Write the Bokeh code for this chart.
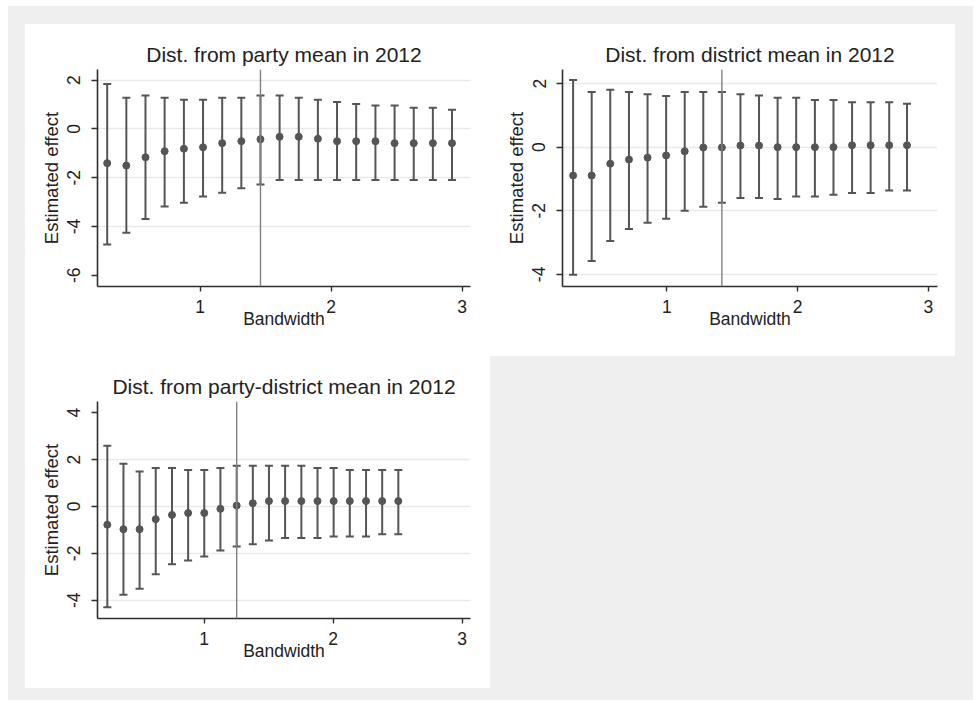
from bokeh.plotting import figure
from bokeh.models import (ColumnDataSource, Whisker, TeeHead, Span, FixedTicker,
                          Range1d, Spacer)
from bokeh.layouts import row, column
from bokeh.embed import file_html
from bokeh.resources import INLINE

# ---- Panel 1: distance from party mean in 2012 ----
title1 = "Dist. from party mean in 2012"
bw1 = [0.292, 0.438, 0.584, 0.730, 0.877, 1.023, 1.169, 1.315, 1.461, 1.607,
       1.753, 1.899, 2.045, 2.191, 2.338, 2.484, 2.630, 2.776, 2.922]
est1 = [-1.40, -1.50, -1.16, -0.91, -0.81, -0.75, -0.58, -0.50, -0.42, -0.32,
        -0.32, -0.40, -0.50, -0.50, -0.50, -0.58, -0.58, -0.58, -0.58]
hi1 = [1.85, 1.28, 1.37, 1.28, 1.20, 1.20, 1.28, 1.28, 1.37, 1.37,
       1.28, 1.20, 1.11, 1.03, 0.96, 0.96, 0.87, 0.87, 0.79]
lo1 = [-4.74, -4.26, -3.69, -3.18, -3.03, -2.77, -2.61, -2.43, -2.28, -2.09,
       -2.09, -2.09, -2.09, -2.09, -2.09, -2.09, -2.09, -2.09, -2.09]
opt1 = 1.461
yticks1 = [-6, -4, -2, 0, 2]

# ---- Panel 2: distance from district mean in 2012 ----
title2 = "Dist. from district mean in 2012"
bw2 = [0.284, 0.426, 0.568, 0.711, 0.853, 0.995, 1.137, 1.279, 1.421, 1.563,
       1.705, 1.847, 1.989, 2.132, 2.274, 2.416, 2.558, 2.700, 2.836]
est2 = [-0.89, -0.89, -0.52, -0.39, -0.33, -0.26, -0.13, -0.01, -0.01, 0.05,
        0.05, 0.00, 0.00, 0.00, 0.00, 0.06, 0.06, 0.06, 0.06]
hi2 = [2.11, 1.73, 1.80, 1.73, 1.66, 1.61, 1.73, 1.73, 1.73, 1.66,
       1.62, 1.55, 1.55, 1.48, 1.48, 1.41, 1.41, 1.41, 1.36]
lo2 = [-4.01, -3.58, -2.95, -2.57, -2.38, -2.25, -2.00, -1.87, -1.75, -1.60,
       -1.60, -1.63, -1.55, -1.55, -1.50, -1.44, -1.44, -1.36, -1.36]
opt2 = 1.421
yticks2 = [-4, -2, 0, 2]

# ---- Panel 3: distance from party-district mean in 2012 ----
title3 = "Dist. from party-district mean in 2012"
bw3 = [0.251, 0.376, 0.501, 0.626, 0.752, 0.877, 1.002, 1.127, 1.253, 1.378,
       1.503, 1.628, 1.754, 1.879, 2.004, 2.129, 2.255, 2.380, 2.505]
est3 = [-0.78, -0.97, -0.97, -0.54, -0.36, -0.28, -0.28, -0.10, 0.04, 0.14,
        0.23, 0.23, 0.23, 0.23, 0.23, 0.23, 0.23, 0.23, 0.23]
hi3 = [2.59, 1.82, 1.49, 1.64, 1.64, 1.56, 1.56, 1.64, 1.74, 1.74,
       1.74, 1.74, 1.74, 1.64, 1.64, 1.56, 1.56, 1.56, 1.56]
lo3 = [-4.30, -3.77, -3.51, -2.89, -2.46, -2.30, -2.13, -1.88, -1.71, -1.61,
       -1.45, -1.34, -1.35, -1.35, -1.28, -1.28, -1.28, -1.18, -1.18]
opt3 = 1.253
yticks3 = [-4, -2, 0, 2, 4]

xticks = [1, 2, 3]
grid_ticks = [-4, -2, 0, 2]
x_title = "Bandwidth"
y_title = "Estimated effect"

FONT = "Liberation Sans"
INK = "#555555"
TEXT = "#222222"
AXIS = "#2e2e2e"
BACK = "#efefef"


def panel(title, bw, est, lo, hi, opt, yticks, xr, yr, border_right=20):
    p = figure(width=465, height=332, output_backend="svg", toolbar_location=None,
               x_range=Range1d(*xr), y_range=Range1d(*yr),
               min_border_left=72, min_border_right=border_right,
               min_border_top=45, min_border_bottom=70,
               background_fill_color="white", border_fill_color="white",
               outline_line_color=None)

    p.title.text = title
    p.title.align = "center"
    p.title.text_font = FONT
    p.title.text_font_size = "21px"
    p.title.text_font_style = "normal"
    p.title.text_color = TEXT
    p.title.standoff = 8

    p.xgrid.visible = False
    p.ygrid.ticker = FixedTicker(ticks=grid_ticks)
    p.ygrid.grid_line_color = "#e9e9e9"
    p.ygrid.grid_line_width = 1.5

    for ax in (p.xaxis[0], p.yaxis[0]):
        ax.axis_line_color = AXIS
        ax.axis_line_width = 1.6
        ax.major_tick_line_color = AXIS
        ax.major_tick_line_width = 1.4
        ax.major_tick_in = 0
        ax.minor_tick_line_color = None
        ax.major_label_text_font = FONT
        ax.major_label_text_font_size = "17.5px"
        ax.major_label_text_color = TEXT
        ax.axis_label_text_font = FONT
        ax.axis_label_text_font_style = "normal"
        ax.axis_label_text_color = TEXT

    p.xaxis.ticker = FixedTicker(ticks=xticks)
    p.xaxis.major_tick_out = 5
    p.xaxis.major_label_standoff = 8
    p.xaxis.axis_label = x_title
    p.xaxis.axis_label_text_font_size = "17.5px"
    p.xaxis.axis_label_standoff = -7

    p.yaxis.ticker = FixedTicker(ticks=yticks)
    p.yaxis.major_label_overrides = {t: str(t) for t in yticks}
    p.yaxis.major_label_orientation = "vertical"
    p.yaxis.major_tick_out = 6
    p.yaxis.major_label_standoff = 11
    p.yaxis.axis_label = y_title
    p.yaxis.axis_label_text_font_size = "18.5px"
    p.yaxis.axis_label_standoff = 3

    # optimal bandwidth marker
    p.add_layout(Span(location=opt, dimension="height",
                      line_color="#808080", line_width=1.4))

    src = ColumnDataSource(dict(bw=bw, est=est, lo=lo, hi=hi))
    head = dict(size=8, line_color=INK, line_width=2)
    p.add_layout(Whisker(base="bw", upper="hi", lower="lo", source=src,
                         dimension="height", line_color=INK, line_width=2,
                         upper_head=TeeHead(**head), lower_head=TeeHead(**head)))
    p.scatter("bw", "est", source=src, size=7, color=INK, line_color=INK)
    return p


p1 = panel(title1, bw1, est1, lo1, hi1, opt1, yticks1, (0.218, 3.063), (-6.46, 2.44))
p2 = panel(title2, bw2, est2, lo2, hi2, opt2, yticks2, (0.203, 3.069), (-4.38, 2.44),
           border_right=18)
p3 = panel(title3, bw3, est3, lo3, hi3, opt3, yticks3, (0.175, 3.064), (-4.78, 4.48))

gray = {"background-color": BACK}
left_col = column(p1, p3, styles={"background-color": "white"})
right_col = column(p2, Spacer(width=465, height=332, styles=gray),
                   styles={"background-color": "white"})
body = row(Spacer(width=17, height=664, styles=gray), left_col, right_col,
           Spacer(width=18, height=664, styles=gray),
           styles={"background-color": "white"})
root = column(Spacer(width=965, height=18), body, Spacer(width=965, height=12),
              styles=gray, margin=(6, 0, 0, 8))

open("out.html", "w").write(file_html(root, INLINE))
